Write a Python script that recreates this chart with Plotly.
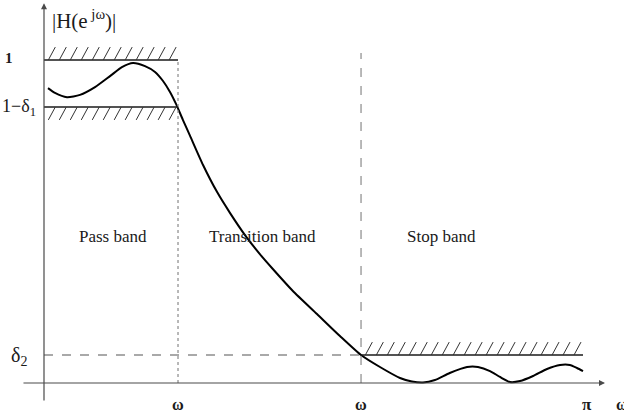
import numpy as np
import plotly.graph_objects as go

# ---- data (normalised frequency w/pi, magnitude) ----
omega = [0.0074, 0.0203, 0.0425, 0.0665, 0.0943, 0.122, 0.144, 0.1645, 0.1867, 0.2052,
         0.220, 0.2329, 0.244, 0.2569, 0.270, 0.294, 0.320, 0.344, 0.3715, 0.399, 0.423,
         0.460, 0.5046, 0.547, 0.586, 0.621, 0.658, 0.680, 0.7006, 0.7227, 0.750,
         0.782, 0.8022, 0.8244, 0.8429, 0.8614, 0.8799, 0.904, 0.9298, 0.954, 0.972,
         0.9852, 0.9963]
magnitude = [0.913, 0.898, 0.885, 0.892, 0.916, 0.950, 0.978, 0.991, 0.981, 0.963,
             0.935, 0.901, 0.864, 0.814, 0.765, 0.675, 0.591, 0.526, 0.458, 0.399, 0.353,
             0.285, 0.2136, 0.1455, 0.0867, 0.0495, 0.0155, 0.0046, 0.0015, 0.0093, 0.031,
             0.0495, 0.0495, 0.037, 0.0186, 0.003, 0.006, 0.0217, 0.0433, 0.0557, 0.0557,
             0.0464, 0.037]

omega_p = 0.2477      # passband edge
omega_s = 0.586       # stopband edge
omega_end = 0.9963    # pi
pass_upper = 1.0
pass_lower = 0.8545   # 1 - delta1
stop_upper = 0.0867   # delta2

band_labels = ["Pass band", "Transition band", "Stop band"]
band_label_x = [0.1275, 0.403, 0.734]
band_label_y = 0.455

# ---- style ----
ink = "#1a1a1a"
axis_col = "#4a4a4a"
guide_col = "#8a8a8a"
serif = "Liberation Serif, Times New Roman, serif"
hatch_dx = 0.0203
hatch_w = 0.0129
hatch_h = 0.040

x_rng = [-44 / 541, (624 - 44) / 541]
y_rng = [-31 / 323, 383 / 323]

fig = go.Figure()
fig.add_trace(go.Scatter(x=omega, y=magnitude, mode="lines",
                         line=dict(color="black", width=2, shape="spline", smoothing=0.6),
                         hoverinfo="skip", showlegend=False))

shapes = []
def seg(x0, y0, x1, y1, color=ink, width=1.5, dash="solid"):
    shapes.append(dict(type="line", xref="x", yref="y", x0=x0, y0=y0, x1=x1, y1=y1,
                       line=dict(color=color, width=width, dash=dash), layer="above"))

# guide lines
seg(omega_p, 0, omega_p, pass_upper, color=guide_col, width=1.2, dash="dot")
seg(omega_s, 0, omega_s, 1.0217, color=guide_col, width=1.2, dash="dash")
seg(0, stop_upper, omega_s, stop_upper, color="#555555", width=1.2, dash="dash")

# tolerance lines
seg(0, pass_upper, omega_p, pass_upper, width=1.6)
seg(0, pass_lower, omega_p, pass_lower, width=1.4)
seg(omega_s, stop_upper, omega_end, stop_upper, width=1.4)

# hatching
def hatch(x_start, x_stop, y_base, upward):
    xs = np.arange(x_start, x_stop - hatch_w + 1e-9, hatch_dx)
    for x in xs:
        if upward:
            seg(x, y_base, x + hatch_w, y_base + hatch_h, color="#333333", width=1)
        else:
            seg(x, y_base - hatch_h, x + hatch_w, y_base, color="#333333", width=1)

hatch(0.008, omega_p + 0.004, pass_upper, True)
hatch(0.008, omega_p + 0.004, pass_lower, False)
hatch(omega_s + 0.008, omega_end + 0.004, stop_upper, True)

annotations = []
# axes with arrows
annotations.append(dict(x=0, y=1.176, ax=0, ay=-0.0588, xref="x", yref="y", axref="x", ayref="y",
                        text="", showarrow=True, arrowhead=2, arrowsize=1, arrowwidth=1.2,
                        arrowcolor=axis_col))
annotations.append(dict(x=1.037, y=0, ax=-0.0407, ay=0, xref="x", yref="y", axref="x", ayref="y",
                        text="", showarrow=True, arrowhead=2, arrowsize=1, arrowwidth=1.2,
                        arrowcolor=axis_col))

def label(x, y, text, size=16, xanchor="center", yanchor="middle"):
    annotations.append(dict(x=x, y=y, xref="x", yref="y", text=text, showarrow=False,
                            xanchor=xanchor, yanchor=yanchor,
                            font=dict(family=serif, size=size, color=ink)))

label(0.012, 1.125, "|H(e<sup> jω</sup>)|", size=21, xanchor="left")
label(-0.076, pass_upper + 0.006, "<b>1</b>", size=15, xanchor="left")
label(x_rng[0] + 0.0005, pass_lower, "1−δ<sub>1</sub>", size=18, xanchor="left")
label(-0.047, stop_upper - 0.006, "δ<sub>2</sub>", size=20)
label(omega_p, -0.068, "<b>ω</b>", size=16)
label(omega_s, -0.068, "<b>ω</b>", size=16)
label(1.003, -0.066, "<b>π</b>", size=17)
label((614 - 44) / 541, -0.068, "<b>ω</b>", size=16, xanchor="left")
for t, x in zip(band_labels, band_label_x):
    label(x, band_label_y, t, size=17)

fig.update_layout(
    width=624, height=414, margin=dict(l=0, r=0, t=0, b=0),
    paper_bgcolor="white", plot_bgcolor="white",
    xaxis=dict(range=x_rng, visible=False, fixedrange=True),
    yaxis=dict(range=y_rng, visible=False, fixedrange=True),
    shapes=shapes, annotations=annotations, showlegend=False,
)
fig.write_html("out.html")
